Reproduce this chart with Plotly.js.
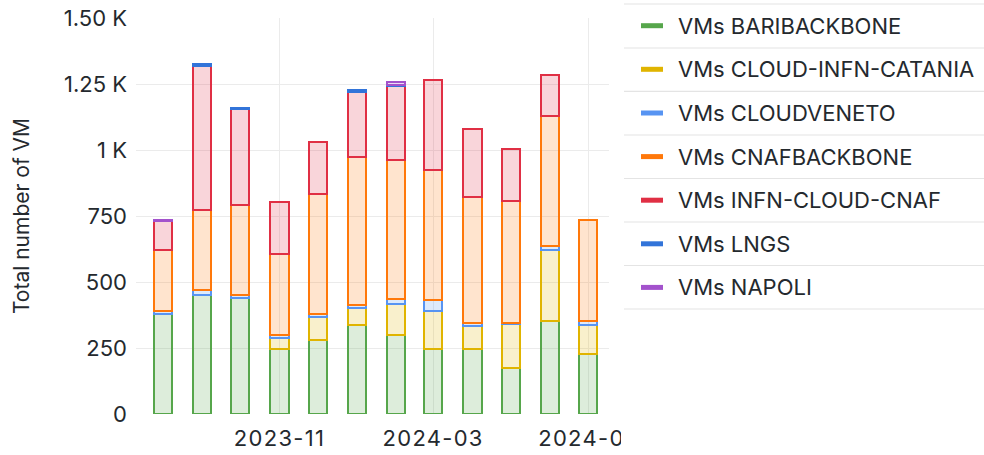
<!DOCTYPE html>
<html>
<head>
<meta charset="utf-8">
<script src="https://cdn.plot.ly/plotly-3.0.1.min.js"></script>
<style>
  html, body { margin: 0; padding: 0; background: #fff; }
  #chart { width: 984px; height: 455px; }
  #chart .xtick text { letter-spacing: 1.3px; }
</style>
</head>
<body>
<div id="chart"></div>
<script>
// ---- Data ----
const months = ['2023-08-01','2023-09-01','2023-10-01','2023-11-01','2023-12-01','2024-01-01',
                '2024-02-01','2024-03-01','2024-04-01','2024-05-01','2024-06-01','2024-07-01'];
const seriesNames = ['VMs BARIBACKBONE','VMs CLOUD-INFN-CATANIA','VMs CLOUDVENETO','VMs CNAFBACKBONE',
                     'VMs INFN-CLOUD-CNAF','VMs LNGS','VMs NAPOLI'];
const bariBackbone     = [380, 452, 439, 245, 280, 338, 301, 248, 245, 173, 352, 228];
const cloudInfnCatania = [null, null, null, 43, 87, 62, 117, 142, 87, 167, 271, 110];
const cloudVeneto      = [10, 16, 10, 10, 10, 12, 16, 40, 14, 4, 12, 14];
const cnafBackbone     = [230, 303, 343, 308, 458, 562, 528, 496, 476, 462, 494, 381];
const infnCloudCnaf    = [110, 546, 363, 196, 195, 247, 281, 339, 257, 196, 156, null];
const lngs             = [2, 9, 5, null, null, 5, 3, null, null, null, null, null];
const napoli           = [2, null, null, null, null, null, 12, null, null, null, null, null];
const yTickVals  = [0, 250, 500, 750, 1000, 1250, 1500];
const yTickText  = ['0', '250', '500', '750', '1 K', '1.25 K', '1.50 K'];

const seriesValues = [bariBackbone, cloudInfnCatania, cloudVeneto, cnafBackbone, infnCloudCnaf, lngs, napoli];
const colors = ['#56A64B', '#E0B400', '#5794F2', '#FF780A', '#E02F44', '#3274D9', '#A352CC'];

function hexToRgba(hex, a) {
  const n = parseInt(hex.slice(1), 16);
  return 'rgba(' + ((n >> 16) & 255) + ',' + ((n >> 8) & 255) + ',' + (n & 255) + ',' + a + ')';
}

const DAY = 86400000;
const traces = seriesNames.map((name, i) => ({
  type: 'bar',
  name: name,
  x: months,
  y: seriesValues[i],
  width: 14.2 * DAY,
  marker: { color: hexToRgba(colors[i], 0.2), line: { color: colors[i], width: 2 } },
  showlegend: false,
  hoverinfo: 'x+y+name'
}));

// ---- Layout geometry ----
const W = 984, H = 455;
const L = 136, R = 375, T = 18, B = 41;
const plotW = W - L - R, plotH = H - T - B;
const px = X => (X - L) / plotW;
const py = Y => (H - B - Y) / plotH;

const FONT = 'Inter, sans-serif';
const textColor = '#24292E';
const gridColor = '#EBEBEB';

// Legend (table-like list on the right)
const legendRowCenters = [25.7, 69.3, 113, 156.6, 200.2, 243.8, 287.4];
const legendSeparators = [4, 48, 91.3, 135, 178.5, 222, 265.5, 309];
const shapes = [];
const annotations = [];
legendSeparators.forEach(y => {
  shapes.push({ type: 'line', xref: 'paper', yref: 'paper', x0: px(624), x1: px(984), y0: py(y), y1: py(y),
                line: { color: '#E4E4E4', width: 1.2 } });
});
seriesNames.forEach((name, i) => {
  const yc = legendRowCenters[i];
  shapes.push({ type: 'line', xref: 'paper', yref: 'paper', x0: px(641), x1: px(663), y0: py(yc), y1: py(yc),
                line: { color: colors[i], width: 5 } });
  annotations.push({ xref: 'paper', yref: 'paper', x: px(676), y: py(yc), xanchor: 'left', yanchor: 'middle',
                     text: name, showarrow: false, font: { family: FONT, size: 22, color: textColor } });
});
// clip the last x tick label where the legend panel begins
shapes.push({ type: 'rect', xref: 'paper', yref: 'paper', layer: 'above', x0: px(621), x1: px(984), y0: py(420), y1: py(455),
              fillcolor: '#FFFFFF', line: { width: 0 } });

const layout = {
  width: W, height: H,
  margin: { l: L, r: R, t: T, b: B, pad: 0 },
  paper_bgcolor: '#FFFFFF', plot_bgcolor: '#FFFFFF',
  barmode: 'stack',
  font: { family: FONT, size: 22, color: textColor },
  showlegend: false,
  xaxis: {
    type: 'date',
    range: ['2023-07-11', '2024-07-17 12:00'],
    tick0: '2023-11-01', dtick: 'M4', tickformat: '%Y-%m',
    showgrid: true, gridcolor: gridColor, gridwidth: 1,
    zeroline: false, showline: false, ticks: '',
    ticklabelstandoff: 9,
    tickfont: { family: FONT, size: 22, color: textColor },
    fixedrange: true
  },
  yaxis: {
    range: [0, 1500],
    tickvals: yTickVals, ticktext: yTickText,
    showgrid: true, gridcolor: gridColor, gridwidth: 1,
    zeroline: false, showline: false, ticks: '',
    ticklabelstandoff: 8,
    tickfont: { family: FONT, size: 22, color: textColor },
    title: { text: 'Total number of VM', standoff: 28, font: { family: FONT, size: 21, color: textColor } },
    automargin: false,
    fixedrange: true
  },
  shapes: shapes,
  annotations: annotations
};

Plotly.newPlot('chart', traces, layout, { displayModeBar: false, staticPlot: true });
</script>
</body>
</html>
